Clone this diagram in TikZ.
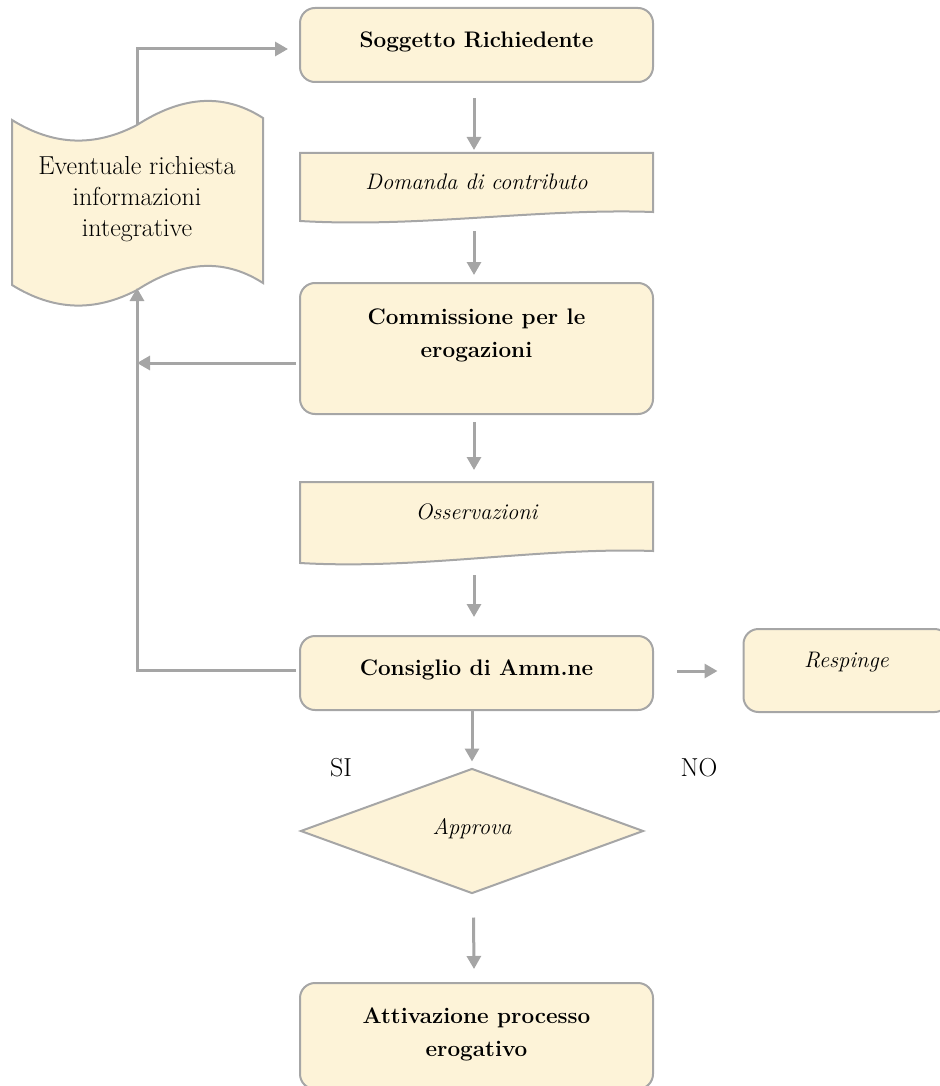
\documentclass[tikz,border=0pt]{standalone}
\usetikzlibrary{arrows.meta,shapes.geometric,calc}
\definecolor{fillc}{HTML}{FDF3D8}
\definecolor{bordc}{HTML}{A6A6A6}
\definecolor{arrc}{HTML}{A5A5A5}
\tikzset{
  stepbox/.style={draw=bordc, fill=fillc, line width=2pt, rounded corners=15pt, inner sep=0pt},
  shapeline/.style={draw=bordc, fill=fillc, line width=2pt},
  txt/.style={align=center, inner sep=0pt, font=\fontsize{26}{31}\selectfont},
  btxt/.style={txt, font=\fontsize{22.5}{33}\selectfont\bfseries},
  itxt/.style={txt, font=\fontsize{22.5}{32}\selectfont\itshape},
  arr/.style={draw=arrc, line width=3pt, -{Triangle[length=13pt,width=14pt]}},
  plainline/.style={draw=arrc, line width=3pt},
}
\begin{document}
\begin{tikzpicture}[x=1pt,y=-1pt]
\useasboundingbox (0,0) rectangle (939,1086);

% Soggetto Richiedente
\node[stepbox, minimum width=353pt, minimum height=74pt] (sogg) at (476.5,45) {};
\node[btxt] (soggt) at (476.5,42) {Soggetto Richiedente};

% Domanda di contributo (document)
\path[shapeline] (300,153) -- (653,153) -- (653,212)
  .. controls (540,208) and (420,228) .. (300,221) -- cycle;
\node[itxt] (dom) at (476.5,182) {Domanda di contributo};
\coordinate (domtop) at (474,153);
\coordinate (dombot) at (474,219);

% Commissione
\node[stepbox, minimum width=353pt, minimum height=131pt] (comm) at (476.5,348.5) {};
\node[btxt] (commt) at (476.5,335) {Commissione per le\\erogazioni};

% Osservazioni (document)
\path[shapeline] (300,482) -- (653,482) -- (653,551)
  .. controls (540,547) and (420,570) .. (300,563) -- cycle;
\node[itxt] (oss) at (476.5,512) {Osservazioni};
\coordinate (osstop) at (474,482);
\coordinate (ossbot) at (474,559);

% Consiglio
\node[stepbox, minimum width=353pt, minimum height=74pt] (cons) at (476.5,673) {};
\node[btxt] (const) at (476.5,670) {Consiglio di Amm.ne};

% Respinge
\node[stepbox, minimum width=206pt, minimum height=83pt] (resp) at (846.5,670.5) {};
\node[itxt] (respt) at (846.5,662) {Respinge};

% Approva diamond
\node[shapeline, diamond, inner sep=0pt, minimum width=343pt, minimum height=125pt] (appr) at (472,831) {};
\node[itxt] (apprt) at (472,829) {Approva};

% Attivazione
\node[stepbox, minimum width=353pt, minimum height=106pt] (attiv) at (476.5,1036) {};
\node[btxt] (attivt) at (476.5,1034) {Attivazione processo\\erogativo};

% Scroll (punched tape)
\path[shapeline] (12,120)
  .. controls (54,146) and (95,147) .. (137,125)
  .. controls (179,98) and (221,91) .. (263,118)
  -- (263,283)
  .. controls (221,256) and (179,263) .. (137,290)
  .. controls (95,312) and (54,311) .. (12,285) -- cycle;
\node[txt] (scroll) at (137,199) {Eventuale richiesta\\informazioni\\integrative};
\coordinate (scrolltop) at (137,125);
\coordinate (scrollbot) at (137,288);

% labels
\node[txt] (si) at (341,768) {SI};
\node[txt] (no) at (699,768) {NO};

% connectors
\draw[arr] (scrolltop) |- ($(sogg.west)+(-11,4)$);
\draw[arr] (474,98) -- ($(domtop)+(0,-3)$);
\draw[arr] ($(dombot)+(0,12)$) -- (474,275);
\draw[arr] ($(comm.west)+(-3,14.5)$) -- (137,363);
\draw[arr] (474,422) -- ($(osstop)+(0,-12)$);
\draw[arr] ($(ossbot)+(0,16)$) -- (474,617);
\draw[plainline] ($(cons.west)+(-3,-3)$) -- (137,670);
\draw[arr] (137,671.5) -- (scrollbot);
\draw[arr] ($(cons.east)+(23,-2)$) -- ($(resp.west)+(-25,0.5)$);
\draw[arr] (cons.south -| appr.north) -- ($(appr.north)+(0,-6)$);
\draw[arr] ($(appr.south)+(1.5,23)$) -- ($(attiv.north)+(-2.5,-13)$);
\end{tikzpicture}
\end{document}
